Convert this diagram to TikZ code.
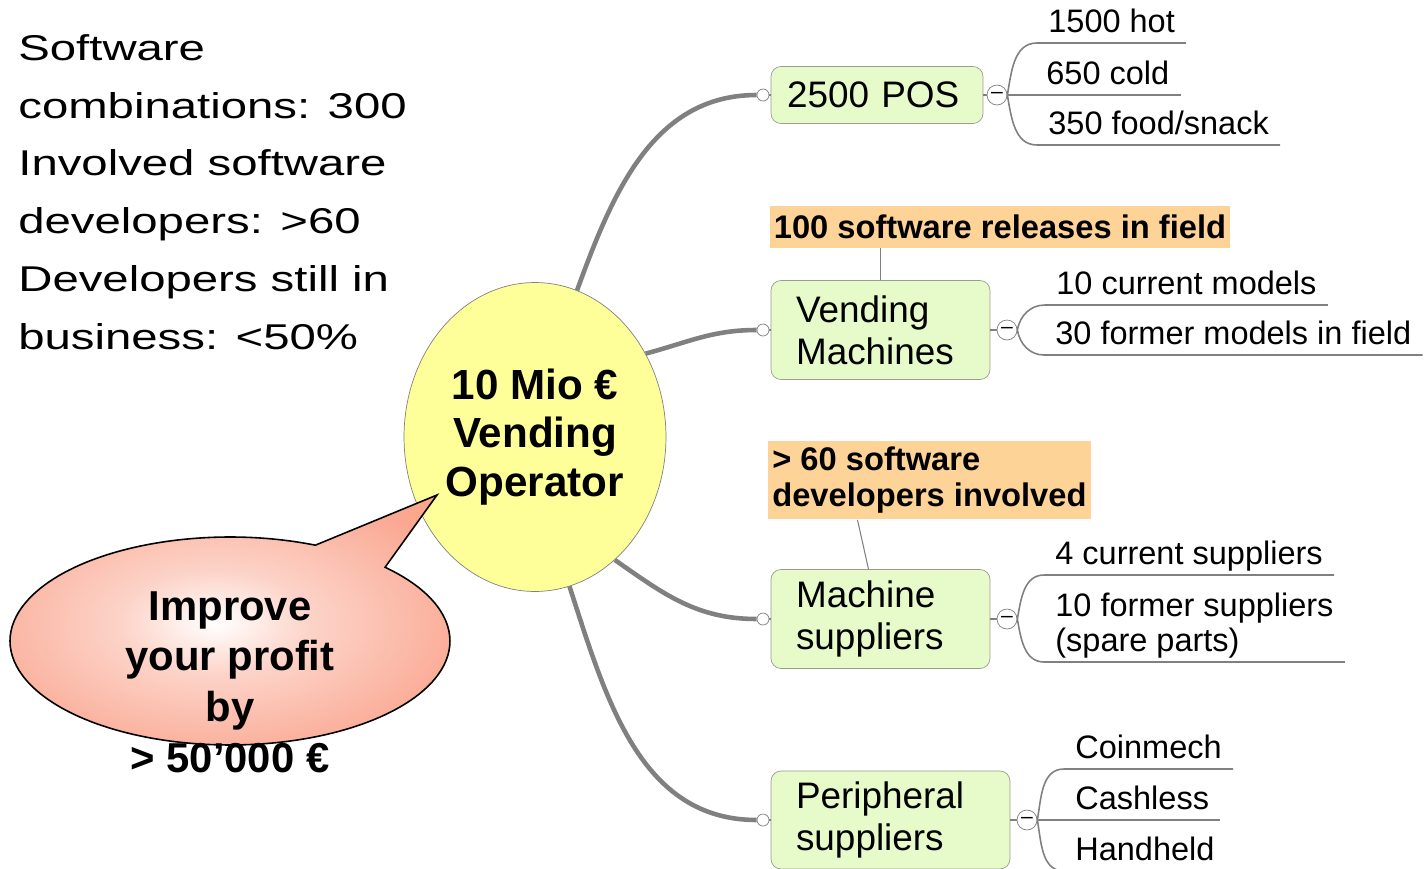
\documentclass[tikz,border=0pt]{standalone}
\usepackage{fontspec}
\setmainfont{Liberation Sans}
\newfontfamily\widefont[FakeStretch=1.32]{Liberation Sans}
\usetikzlibrary{shapes.geometric,shapes.callouts}
\definecolor{opyellow}{RGB}{255,255,153}
\definecolor{mapgreen}{RGB}{231,250,201}
\definecolor{noteorange}{RGB}{254,211,152}
\definecolor{linegray}{RGB}{128,128,128}
\definecolor{boxgray}{RGB}{150,158,140}
\definecolor{callsalmon}{RGB}{250,168,146}
\definecolor{callorange}{RGB}{248,160,110}
\pgfdeclareradialshading{bubble}{\pgfpoint{0bp}{0bp}}{color(0bp)=(white); color(10bp)=(white!50!callsalmon); color(28bp)=(callsalmon); color(50bp)=(callorange)}

\begin{document}
\begin{tikzpicture}[x=0.02cm,y=-0.02cm,
  branch/.style={draw=boxgray,fill=mapgreen,rounded corners=0.2cm,align=left,inner ysep=0pt,font=\fontsize{21}{23.8}\selectfont},
  port/.style={circle,draw=linegray,fill=white,inner sep=0pt,minimum size=0.24cm},
  fold/.style={circle,draw=linegray,fill=white,inner sep=0pt,minimum size=0.4cm,font=\fontsize{12}{12}\selectfont},
  leaf/.style={anchor=south west,inner xsep=0.22cm,inner ysep=5.6pt,text depth=0pt,font=\fontsize{18.5}{19.8}\selectfont},
  note/.style={fill=noteorange,inner xsep=0.08cm,align=left,font=\bfseries\fontsize{18.6}{20.4}\selectfont},
  limb/.style={draw=linegray,line width=2.6pt},
  twig/.style={draw=linegray,line width=0.9pt},
  pin/.style={draw=linegray,line width=0.6pt}]
\useasboundingbox (0,0) rectangle (1427,869);

% Facts
\node[anchor=north west,inner sep=0pt,align=left,font=\fontsize{20.4}{32.9}\widefont] (facts) at (18,34)
  {Software\\combinations: 300\\Involved software\\developers: >60\\Developers still in\\business: <50\%};

% Centre
\node[ellipse,draw=linegray,fill=opyellow,minimum width=5.24cm,minimum height=6.18cm,inner sep=0pt,align=center,font=\bfseries\fontsize{24}{27.8}\selectfont] (op) at (535,437) {10 Mio €\\Vending\\Operator};

% Branches
\node[branch,text width=3.6cm,inner xsep=0.32cm,minimum height=1.14cm] (pos) at (877,95) {2500 POS};
\node[branch,text width=3.38cm,inner xsep=0.5cm,minimum height=1.98cm] (vm) at (880.5,330) {Vending\\Machines};
\node[branch,text width=3.38cm,inner xsep=0.5cm,minimum height=1.98cm] (ms) at (880.5,619) {Machine\\suppliers};
\node[branch,text width=3.78cm,inner xsep=0.5cm,minimum height=1.96cm] (ps) at (890.5,820) {Peripheral\\suppliers};

\node[port] (posin) at (763,95) {};
\node[port] (vmin) at (763,330) {};
\node[port] (msin) at (763,619) {};
\node[port] (psin) at (763,820) {};

\node[fold] (posf) at (997,95) {--};
\node[fold] (vmf) at (1007,330) {--};
\node[fold] (msf) at (1007,619) {--};
\node[fold] (psf) at (1027,820) {--};

\draw[limb] (op.74) to[out=70,in=180] (posin);
\draw[limb] (op.37) to[out=15,in=180] (vmin);
\draw[limb] (op.-57) to[out=-35,in=180] (msin);
\draw[limb] (op.-77) to[out=-72,in=180] (psin);

\foreach \b in {pos,vm,ms,ps} {
  \draw[pin] (\b in) -- (\b);
  \draw[pin] (\b) -- (\b f);
}

% Leaves
\node[leaf] (hot) at (1037,43) {1500 hot};
\node[leaf] (cold) at (1035,95) {650 cold};
\node[leaf] (snack) at (1037,145) {350 food/snack};
\draw[twig] (posf.east) to[out=80,in=180] (hot.south west) -- (hot.south east);
\draw[twig] (posf.east) -- (cold.south west) -- (cold.south east);
\draw[twig] (posf.east) to[out=-80,in=180] (snack.south west) -- (snack.south east);

\node[leaf] (curm) at (1045,305) {10 current models};
\node[leaf] (form) at (1044,355) {30 former models in field};
\draw[twig] (vmf.east) to[out=80,in=180] (curm.south west) -- (curm.south east);
\draw[twig] (vmf.east) to[out=-80,in=180] (form.south west) -- (form.south east);

\node[leaf] (cursup) at (1044,575) {4 current suppliers};
\node[leaf,align=left,text depth={},inner ysep=2pt] (oldsup) at (1044,662) {10 former suppliers\\(spare parts)};
\draw[twig] (msf.east) to[out=80,in=180] (cursup.south west) -- (cursup.south east);
\draw[twig] (msf.east) to[out=-80,in=180] (oldsup.south west) -- (oldsup.south east);

\node[leaf] (coin) at (1064,769) {Coinmech};
\node[leaf] (cash) at (1064,820) {Cashless};
\node[leaf] (hand) at (1064,871) {Handheld};
\draw[twig] (psf.east) to[out=80,in=180] (coin.south west) -- (coin.south east);
\draw[twig] (psf.east) -- (cash.south west) -- (cash.south east);
\draw[twig] (psf.east) to[out=-80,in=180] (hand.south west) -- (hand.south east);

% Notes
\node[note,minimum height=0.84cm] (rel) at (1000,227) {100 software releases in field};
\node[note,anchor=west,minimum height=1.58cm] (dev) at (768,480) {> 60 software\\developers involved};
\draw[pin] (vm.north) -- (vm.north |- rel.south);
\draw[pin] ([xshift=-0.24cm]ms.north) -- ([xshift=-1.44cm]dev.south);

% Callout
\coordinate (tip) at (437,495);
\node[ellipse callout,draw=black,line width=0.9pt,shading=bubble,minimum width=8.8cm,minimum height=4.16cm,inner sep=0pt,
  callout absolute pointer={(tip)},callout pointer arc=22] (bubble) at (230,641) {};
\node[align=center,font=\bfseries\fontsize{23.8}{28.9}\selectfont] (gain) at (230,682) {Improve\\your profit\\by\\> 50’000 €};
\end{tikzpicture}
\end{document}
